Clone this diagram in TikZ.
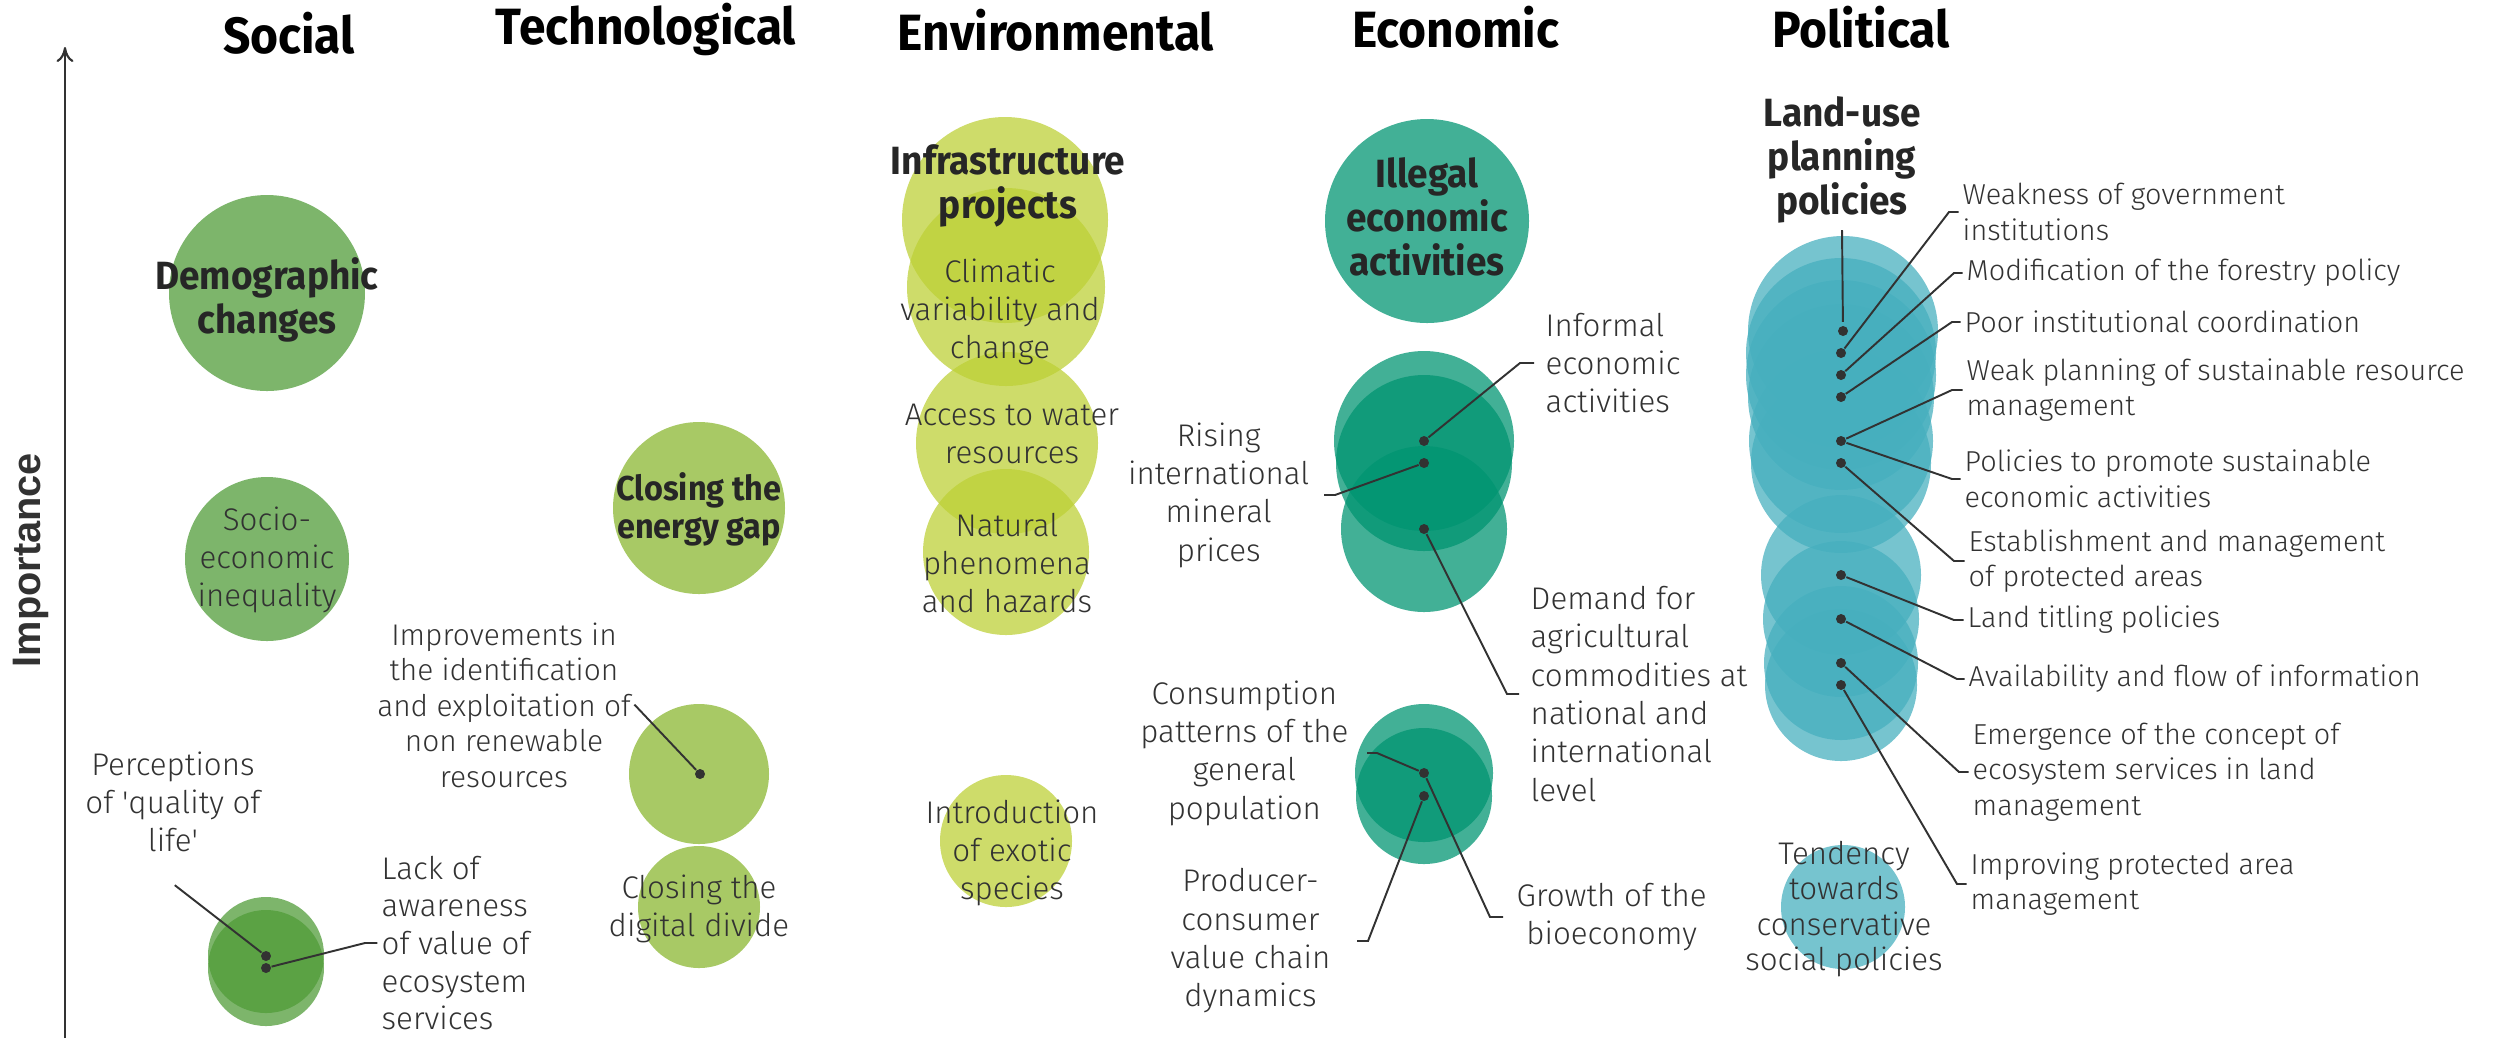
\documentclass[tikz,border=0pt]{standalone}
\usepackage{fontspec}
\usetikzlibrary{arrows.meta}
\setmainfont{Fira Sans}[FakeStretch=0.94]
\newfontfamily\lightfont{Fira Sans Light}
\newfontfamily\axisfont{Liberation Sans}
\definecolor{soc}{RGB}{79,155,55}
\definecolor{tec}{RGB}{137,182,47}
\definecolor{env}{RGB}{189,208,54}
\definecolor{eco}{RGB}{0,148,113}
\definecolor{pol}{RGB}{70,175,190}
\definecolor{ink}{RGB}{50,50,50}

\begin{document}
\begin{tikzpicture}%
  [x=0.01cm, y=-0.01cm,
   bubble/.style={fill opacity=0.74},
   dot/.style={circle, fill=ink, inner sep=0pt, minimum size=0.1cm},
   lbl/.style={font=\lightfont\fontsize{8.9}{10.9}\selectfont, text=ink, inner sep=0pt, align=left},
   clbl/.style={lbl, align=center},
   plbl/.style={lbl, font=\lightfont\fontsize{8.2}{10.1}\selectfont, anchor=west},
   big/.style={font=\bfseries\fontsize{11.2}{12.5}\selectfont, text=black!85, inner sep=0pt, align=center},
   head/.style={font=\bfseries\fontsize{14.5}{16}\selectfont, anchor=base, inner sep=0pt},
   lead/.style={draw=ink, line width=0.55pt, shorten >=1pt},
  ]
\useasboundingbox (0,0) rectangle (2494,1038);

% bubbles
\fill[soc, bubble] (267,293) circle[radius=98];
\fill[soc, bubble] (267,559) circle[radius=82];
\fill[soc, bubble] (266,955) circle[radius=58];
\fill[soc, bubble] (266,968) circle[radius=58];
\fill[tec, bubble] (699,508) circle[radius=86];
\fill[tec, bubble] (699,774) circle[radius=70];
\fill[tec, bubble] (699,907) circle[radius=61];
\fill[env, bubble] (1005,220) circle[radius=103];
\fill[env, bubble] (1006,287) circle[radius=99];
\fill[env, bubble] (1007,443) circle[radius=91];
\fill[env, bubble] (1006,552) circle[radius=83];
\fill[env, bubble] (1006,841) circle[radius=66];
\fill[eco, bubble] (1427,221) circle[radius=102];
\fill[eco, bubble] (1424,441) circle[radius=90];
\fill[eco, bubble] (1424,463) circle[radius=88];
\fill[eco, bubble] (1424,529) circle[radius=83];
\fill[eco, bubble] (1424,773) circle[radius=69];
\fill[eco, bubble] (1424,796) circle[radius=68];
\fill[pol, bubble] (1843,331) circle[radius=95];
\fill[pol, bubble] (1841,353) circle[radius=95];
\fill[pol, bubble] (1841,375) circle[radius=95];
\fill[pol, bubble] (1841,397) circle[radius=93];
\fill[pol, bubble] (1841,441) circle[radius=92];
\fill[pol, bubble] (1841,463) circle[radius=90];
\fill[pol, bubble] (1841,575) circle[radius=80];
\fill[pol, bubble] (1841,619) circle[radius=78];
\fill[pol, bubble] (1841,663) circle[radius=77];
\fill[pol, bubble] (1841,685) circle[radius=76];
\fill[pol, bubble] (1843,907) circle[radius=62];

% axis
\coordinate (a0) at (65,1038);
\coordinate (a1) at (65,47);
\draw[-{To[length=0.15cm,width=0.17cm]}, ink, line width=0.6pt] (a0) -- (a1);
\node[rotate=90, font=\axisfont\bfseries\fontsize{11.3}{13}\selectfont, text=ink] (imp) at (31,560) {Importance};

% headings
\node[head] (h1) at (289,53) {Social};
\node[head] (h2) at (646,44) {Technological};
\node[head] (h3) at (1056,50) {Environmental};
\node[head] (h4) at (1456,47) {Economic};
\node[head] (h5) at (1861,47) {Political};

% social
\node[big] (s1) at (267,300) {Demographic\\changes};
\node[clbl] (s2) at (267,560) {Socio-\\economic\\inequality};
\node[clbl] (s3) at (173,802) {Perceptions\\of \textquotesingle quality of\\life\textquotesingle};
\node[lbl, anchor=west, font=\lightfont\fontsize{8.9}{10.7}\selectfont] (s4) at (381,943) {Lack of\\awareness\\of value of\\ecosystem\\services};

% technological
\node[big, font=\bfseries\fontsize{9.8}{10.9}\selectfont] (t1) at (699,509) {Closing the\\energy gap};
\node[clbl, font=\lightfont\fontsize{8.5}{10.1}\selectfont] (t2) at (504,705) {Improvements in\\the identification\\and exploitation of\\non renewable\\resources};
\node[clbl] (t3) at (699,909) {Closing the\\digital divide};

% environmental
\node[big] (v1) at (1008,186) {Infrastructure\\projects};
\node[clbl] (v2) at (1000,312) {Climatic\\variability and\\change};
\node[clbl] (v3) at (1012,434) {Access to water\\resources};
\node[clbl] (v4) at (1007,563) {Natural\\phenomena\\and hazards};
\node[clbl] (v5) at (1012,853) {Introduction\\of exotic\\species};

% economic
\node[big] (c1) at (1427,217) {Illegal\\economic\\activities};
\node[lbl, anchor=west] (c2) at (1545,363) {Informal\\economic\\activities};
\node[clbl, anchor=east] (c3) at (1310,495) {Rising\\international\\mineral\\prices};
\node[lbl, anchor=west] (c4) at (1530,694) {Demand for\\agricultural\\commodities at\\national and\\international\\level};
\node[clbl, anchor=east] (c5) at (1349,753) {Consumption\\patterns of the\\general\\population};
\node[clbl, anchor=east] (c6) at (1331,941) {Producer-\\consumer\\value chain\\dynamics};
\node[clbl, anchor=west] (c7) at (1516,917) {Growth of the\\bioeconomy};

% political
\node[big] (p1) at (1842,160) {Land-use\\planning\\policies};
\node[plbl] (p2) at (1962,212) {Weakness of government\\institutions};
\node[plbl] (p3) at (1966,273) {Modification of the forestry policy};
\node[plbl] (p4) at (1964,322) {Poor institutional coordination};
\node[plbl] (p5) at (1966,390) {Weak planning of sustainable resource\\management};
\node[plbl] (p6) at (1964,479) {Policies to promote sustainable\\economic activities};
\node[plbl] (p7) at (1968,561) {Establishment and management\\of protected areas};
\node[plbl] (p8) at (1967,620) {Land titling policies};
\node[plbl] (p9) at (1968,679) {Availability and flow of information};
\node[plbl] (p10) at (1972,772) {Emergence of the concept of\\ecosystem services in land\\management};
\node[plbl] (p11) at (1970,884) {Improving protected area\\management};
\node[clbl, font=\lightfont\fontsize{8.9}{10.1}\selectfont] (p12) at (1844,909) {Tendency\\towards\\conservative\\social policies};

% dots
\node[dot] (d1) at (266,956) {};
\node[dot] (d2) at (266,968) {};
\node[dot] (d3) at (700,774) {};
\node[dot] (d4) at (1424,441) {};
\node[dot] (d5) at (1424,463) {};
\node[dot] (d6) at (1424,529) {};
\node[dot] (d7) at (1424,773) {};
\node[dot] (d8) at (1424,796) {};
\node[dot] (q1) at (1843,331) {};
\node[dot] (q2) at (1841,353) {};
\node[dot] (q3) at (1841,375) {};
\node[dot] (q4) at (1841,397) {};
\node[dot] (q5) at (1841,441) {};
\node[dot] (q6) at (1841,463) {};
\node[dot] (q7) at (1841,575) {};
\node[dot] (q8) at (1841,619) {};
\node[dot] (q9) at (1841,663) {};
\node[dot] (q10) at (1841,685) {};

% free ends and elbows
\coordinate (e1) at (172,883);
\coordinate (e2) at (365,943);
\coordinate (e3) at (632,702);
\coordinate (e4) at (1520,363);
\coordinate (e5) at (1335,495);
\coordinate (e6) at (1507,694);
\coordinate (e7) at (1377,753);
\coordinate (e8) at (1368,941);
\coordinate (e9) at (1490,917);
\coordinate (f1) at (1842,230);
\coordinate (f2) at (1949,212);
\coordinate (f3) at (1954,273);
\coordinate (f4) at (1952,322);
\coordinate (f5) at (1952,390);
\coordinate (f6) at (1952,479);
\coordinate (f7) at (1954,561);
\coordinate (f8) at (1954,620);
\coordinate (f9) at (1957,679);
\coordinate (f10) at (1959,772);
\coordinate (f11) at (1957,884);

%      FROM     ELBOW     TO
\draw[lead] (d1) -- (e1);
\draw[lead] (d2) -- (e2) -- (s4.west);
\draw[lead] (d3) -- (e3);
\draw[lead, shorten >=0.11cm] (d4) -- (e4) -- (c2.west);
\draw[lead, shorten >=0.14cm] (d5) -- (e5) -- (c3.east);
\draw[lead, shorten >=0.11cm] (d6) -- (e6) -- (c4.west);
\draw[lead, shorten >=0.18cm] (d7) -- (e7) -- (c5.east);
\draw[lead, shorten >=0.26cm] (d8) -- (e8) -- (c6.east);
\draw[lead, shorten >=0.13cm] (d7) -- (e9) -- (c7.west);
\draw[lead] (f1) -- (q1);
\draw[lead] (q2) -- (f2) -- (p2.west);
\draw[lead] (q3) -- (f3) -- (p3.west);
\draw[lead] (q4) -- (f4) -- (p4.west);
\draw[lead] (q5) -- (f5) -- (p5.west);
\draw[lead] (q5) -- (f6) -- (p6.west);
\draw[lead] (q6) -- (f7) -- (p7.west);
\draw[lead] (q7) -- (f8) -- (p8.west);
\draw[lead] (q8) -- (f9) -- (p9.west);
\draw[lead] (q9) -- (f10) -- (p10.west);
\draw[lead] (q10) -- (f11) -- (p11.west);
\end{tikzpicture}
\end{document}
